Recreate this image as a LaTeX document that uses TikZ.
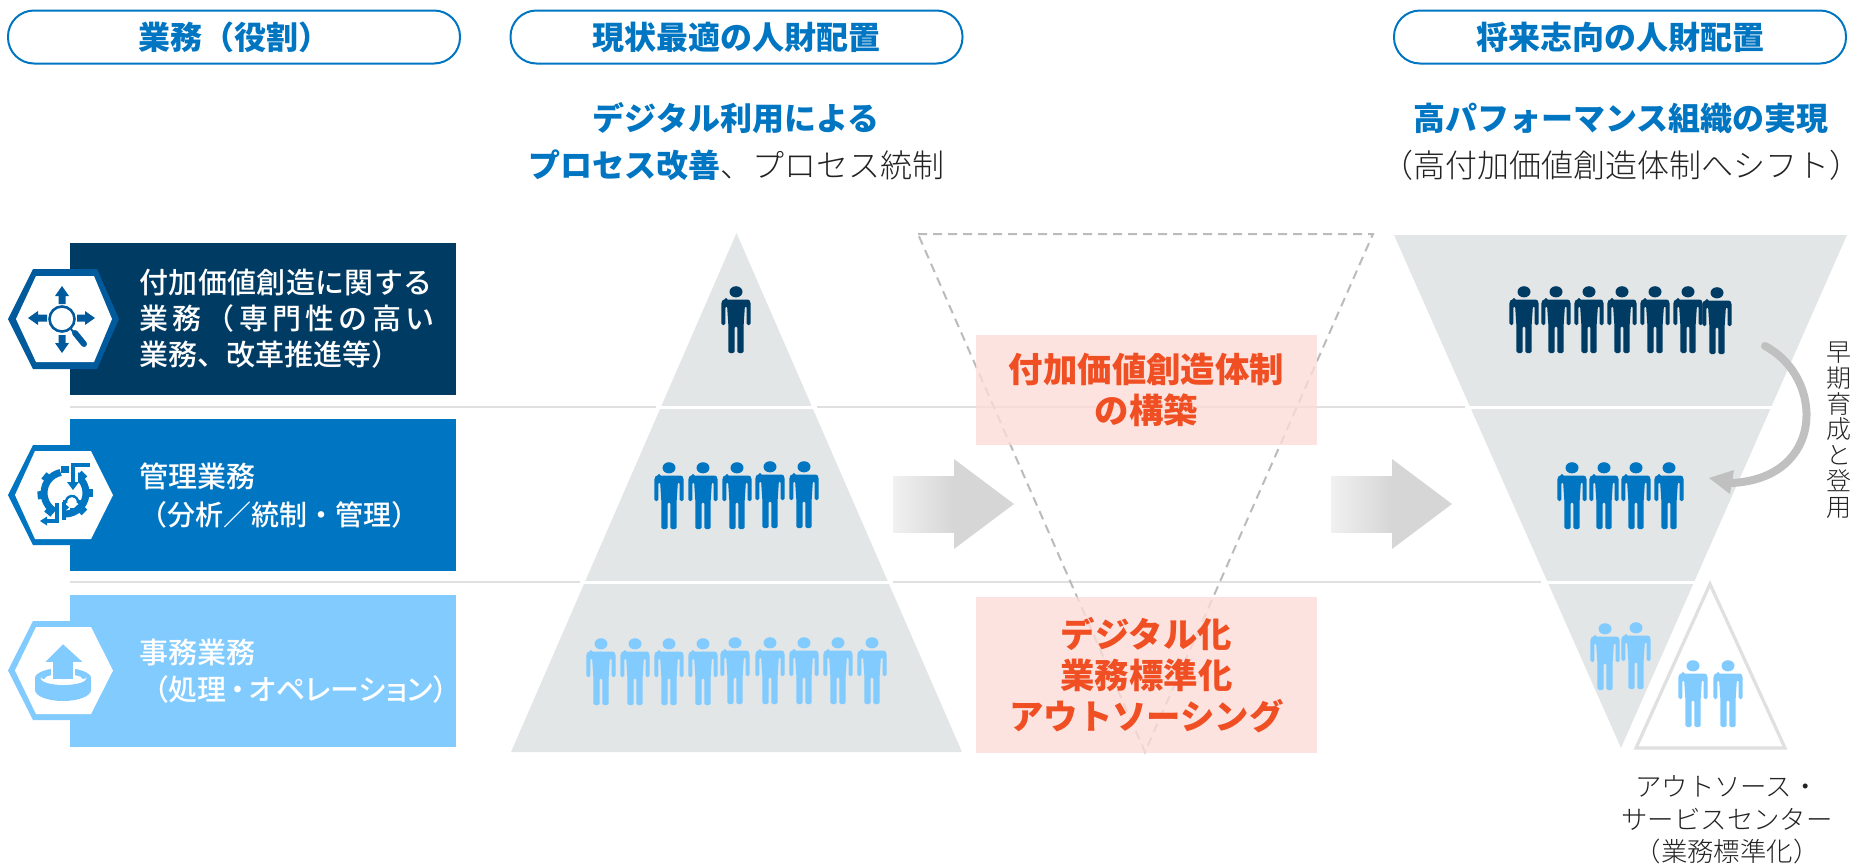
\documentclass[tikz,border=0pt]{standalone}
\usepackage{fontspec}
\setmainfont{Noto Sans CJK JP}
\newfontfamily\cjk{Noto Sans CJK JP}
\newfontfamily\cjklight{Noto Sans CJK JP Light}
\newfontfamily\cjkmed{Noto Sans CJK JP Medium}
\definecolor{navy}{HTML}{003B64}
\definecolor{midblue}{HTML}{0075C2}
\definecolor{lightblue}{HTML}{82CBFF}
\definecolor{hexnavy}{HTML}{005A9C}
\definecolor{pale}{HTML}{E3E6E7}
\definecolor{rule}{HTML}{E0E0E0}
\definecolor{pinkbg}{HTML}{FBDCD7}
\definecolor{redtext}{HTML}{F04E23}
\definecolor{arrowgrey}{HTML}{D6D6D6}
\definecolor{curvegrey}{HTML}{C0C0C0}
\definecolor{dashgrey}{HTML}{BBBBBB}
\definecolor{inktext}{HTML}{222222}
\newcommand{\person}[3]{%
  \fill[#3,shift={(#1,#2)}] (0,5.8) ellipse [x radius=6.5,y radius=5.6];
  \fill[#3,shift={(#1,#2)},rounded corners=0.8pt]
    (-10,13.5) -- (10,13.5) .. controls (13,13.5) and (14.6,15) .. (14.6,19) -- (14.6,39) -- (10.6,39) -- (10.6,20) -- (8.9,20)
    -- (7.6,40) -- (7.6,67) -- (1.3,67) -- (1.3,40) -- (-1.3,40) -- (-1.3,67) -- (-7.6,67) -- (-7.6,40) -- (-8.9,20)
    -- (-10.6,20) -- (-10.6,39) -- (-14.6,39) -- (-14.6,19) .. controls (-14.6,15) and (-13,13.5) .. (-10,13.5) -- cycle;}
\newcommand{\spreadline}[2]{\makebox[#1][s]{#2}}
\tikzset{
  pill/.style={draw=midblue,line width=1pt,rounded corners=13pt,fill=white,minimum width=226pt,minimum height=26.5pt,inner sep=0pt,text=midblue,font=\fontsize{16}{20}\selectfont\bfseries},
  subhead/.style={inner sep=0pt,align=center,font=\fontsize{16}{23.5}\selectfont},
  bandtext/.style={inner sep=0pt,anchor=west,align=left,text=white,font=\cjkmed\fontsize{14.5}{18}\selectfont},
  pinkbox/.style={fill=pinkbg,fill opacity=.8,text opacity=1,minimum width=170.5pt,inner sep=0pt,align=center,text=redtext,font=\fontsize{17.2}{20.5}\selectfont\bfseries},
  greyrule/.style={draw=rule,line width=1pt},
  gap/.style={draw=white,line width=1.5pt},
  dashtri/.style={draw=dashgrey,line width=1pt,dash pattern=on 4.5pt off 3pt},
  caption/.style={inner sep=0pt,align=center,text=inktext,font=\cjklight\fontsize{13.2}{16.2}\selectfont}
}
\begin{document}
\begin{tikzpicture}[x=0.5pt,y=-0.5pt]
\useasboundingbox (0,0) rectangle (1854,863);
% header pills
\node[pill] (p1) at (234,37) {業務（役割）};
\node[pill] (p2) at (736.5,37) {現状最適の人財配置};
\node[pill] (p3) at (1620,37) {将来志向の人財配置};
% subheads
\node[subhead] (s1) at (736,142) {\textcolor{midblue}{\bfseries デジタル利用による}\\\textcolor{midblue}{\bfseries プロセス改善}\textcolor{inktext}{\cjklight 、プロセス統制}};
\node[subhead] (s2) at (1621,142) {\textcolor{midblue}{\bfseries 高パフォーマンス組織の実現}\\\textcolor{inktext}{\cjklight （高付加価値創造体制へシフト）}};
% horizontal rules
\coordinate (r1a) at (70,407); \coordinate (r1b) at (1469,407);
\coordinate (r2a) at (70,582); \coordinate (r2b) at (1541,582);
\draw[greyrule] (r1a) -- (r1b);
\draw[greyrule] (r2a) -- (r2b);
% dashed triangle
\draw[dashtri] (918,234) -- (1373,234) -- (1145,752) -- cycle;
% pink boxes
\node[pinkbox,minimum height=55pt] (k1) at (1146.5,390) {付加価値創造体制\\の構築};
\node[pinkbox,minimum height=78pt] (k2) at (1146.5,675) {デジタル化\\業務標準化\\アウトソーシング};
% pyramid
\fill[pale] (736.5,233) -- (962,752) -- (511,752) -- cycle;
\draw[gap] (656,407) -- (817,407);
\draw[gap] (580,582) -- (893,582);
% inverted triangle
\fill[pale] (1394,235) -- (1847,235) -- (1621,748) -- cycle;
\draw[gap] (1465,407) -- (1776,407);
\draw[gap] (1543,582) -- (1698,582);
% outsourcing triangle
\draw[draw=white,line width=4pt,fill=white] (1710,584) -- (1785,748) -- (1636,748) -- cycle;
\draw[draw=rule,line width=1.6pt,line join=miter,fill=white] (1710,584) -- (1785,748) -- (1636,748) -- cycle;
% block arrows
\shade[left color=arrowgrey!35,right color=arrowgrey] (893,476) rectangle (954,532);
\fill[arrowgrey] (954,459) -- (1014,504) -- (954,549) -- cycle;
\shade[left color=arrowgrey!35,right color=arrowgrey] (1331,476) rectangle (1392,532);
\fill[arrowgrey] (1392,459) -- (1452,504) -- (1392,549) -- cycle;
% bands
\fill[navy] (70,243) rectangle (456,395);
\fill[midblue] (70,419) rectangle (456,571);
\fill[lightblue] (70,595) rectangle (456,747);
% hexagons
\fill[hexnavy] (8,319) -- (33,269) -- (97,269) -- (119,319) -- (97,369) -- (33,369) -- cycle;
\fill[white] (16,319) -- (36,276) -- (94,276) -- (112,319) -- (94,362) -- (36,362) -- cycle;
\fill[midblue] (8,495) -- (33,445) -- (97,445) -- (119,495) -- (97,545) -- (33,545) -- cycle;
\fill[white] (15,495) -- (35,451) -- (91,451) -- (113,495) -- (91,539) -- (35,539) -- cycle;
\fill[lightblue] (8,670.5) -- (33,621) -- (97,621) -- (119,670.5) -- (97,720) -- (33,720) -- cycle;
\fill[white] (15,670.5) -- (36,627) -- (91,627) -- (113,670.5) -- (91,714) -- (36,714) -- cycle;
% icon 1
\draw[hexnavy,line width=1.3pt] (62,319) circle [radius=12.5];
\draw[hexnavy,line width=1pt] (71,329) -- (75,334);
\draw[hexnavy,line width=3pt,line cap=round] (75,333) -- (84,344);
\fill[hexnavy] (62,286) -- (69,296) -- (65.5,296) -- (65.5,304) -- (58.5,304) -- (58.5,296) -- (55,296) -- cycle;
\fill[hexnavy] (62,353) -- (69,343) -- (65.5,343) -- (65.5,335) -- (58.5,335) -- (58.5,343) -- (55,343) -- cycle;
\fill[hexnavy] (28,318) -- (38,311) -- (38,314.5) -- (47,314.5) -- (47,321.5) -- (38,321.5) -- (38,325) -- cycle;
\fill[hexnavy] (95,318) -- (85,311) -- (85,314.5) -- (77,314.5) -- (77,321.5) -- (85,321.5) -- (85,325) -- cycle;
% icon 2
\begin{scope}[shift={(65,493)}]
  \draw[midblue,line width=3.5pt] (258:21) arc [start angle=258,end angle=120,radius=21];
  \draw[midblue,line width=3.5pt] (300:21) arc [start angle=300,end angle=465,radius=21];
  \foreach \a in {185,140,230,-45,0,45,90}{
    \fill[midblue,rotate=\a] (20,-4) rectangle (27.5,4);}
  \begin{scope}[shift={(7,9)}]
    \draw[midblue,line width=1.2pt] (170:6) arc [start angle=170,end angle=370,radius=6];
    \foreach \a in {180,225,270,315,360}{\fill[midblue,rotate=\a] (6,-1.6) rectangle (9.5,1.6);}
  \end{scope}
  \fill[midblue] (15,-21) -- (21,-11) -- (10,-11) -- cycle;
  \draw[white,line width=1.6pt] (11.5,-28) -- (11.5,-6);
  \draw[midblue,line width=1.6pt] (25,-28) -- (8,-28) -- (8,-10);
  \fill[midblue] (8,-3) -- (2,-11) -- (14,-11) -- cycle;
  \draw[white,line width=2.5pt] (-4.5,8) -- (-4.5,31);
  \draw[midblue,line width=1.6pt] (-8,10) -- (-8,28) -- (-20,28);
  \fill[midblue] (-25,28) -- (-18,23.5) -- (-18,32.5) -- cycle;
  \fill[midblue] (-3,9) rectangle (1,27);
\end{scope}
% icon 3
\fill[lightblue] (63,678) ellipse [x radius=28,y radius=10];
\fill[lightblue] (35,678) rectangle (91,690);
\fill[lightblue] (63,690) ellipse [x radius=28,y radius=11];
\fill[white] (63.5,678) ellipse [x radius=23,y radius=7];
\fill[lightblue] (41,678) .. controls (41,672) and (46,670) .. (52,669) -- (52,675) .. controls (47,676) and (45,677) .. (44,679) -- cycle;
\fill[lightblue] (86,678) .. controls (86,672) and (81,670) .. (74,669) -- (74,675) .. controls (80,676) and (82,677) .. (83,679) -- cycle;
\draw[white,line width=0.8pt,fill=lightblue,line join=miter] (63,643) -- (85,663) -- (74,663) -- (74,680) -- (52,680) -- (52,663) -- (43,663) -- cycle;
% band labels
\node[bandtext] (b1) at (139,319) {\spreadline{146.5pt}{付\hfill 加\hfill 価\hfill 値\hfill 創\hfill 造\hfill に\hfill 関\hfill す\hfill る}\\\spreadline{147.5pt}{業\hfill 務\hfill （\hfill 専\hfill 門\hfill 性\hfill の\hfill 高\hfill い}\\業務、改革推進等）};
\node[bandtext,font=\cjkmed\fontsize{14.5}{19}\selectfont] (b2) at (139,496) {管理業務\\{\fontsize{14}{19}\selectfont （分析／統制・管理）}};
\node[bandtext,font=\cjkmed\fontsize{14.5}{18.5}\selectfont] (b3) at (139,671) {事務業務\\\hspace*{7.5pt}{\addfontfeature{RawFeature=+palt}（処理\hspace{2pt}・\hspace{2pt}オペレーション）}};
% people
\person{736}{286}{navy}
\person{669}{462}{midblue}\person{703}{462}{midblue}\person{737}{462}{midblue}\person{770}{461}{midblue}\person{804}{461}{midblue}
\foreach \x in {601,635,669,703}{\person{\x}{638}{lightblue}}
\foreach \x in {735,770,804,838,872}{\person{\x}{637}{lightblue}}
\foreach \x in {1524,1556,1589,1622,1655,1688}{\person{\x}{286}{navy}}
\person{1717}{287}{navy}
\foreach \x in {1572,1604,1636,1669}{\person{\x}{462}{midblue}}
\person{1605}{623}{lightblue}\person{1636}{622}{lightblue}
\person{1693}{660}{lightblue}\person{1728}{660}{lightblue}
% curved arrow
\coordinate (ca) at (1765,346); \coordinate (cb) at (1732,483);
\draw[curvegrey,line width=4pt,line cap=round] (ca) .. controls (1825,378) and (1825,478) .. (cb);
\fill[curvegrey] (1709,478) -- (1734,470) -- (1730,494) -- cycle;
% captions
\node[caption,font=\cjklight\fontsize{12.5}{12.9}\selectfont] (v) at (1839,430) {早\\期\\育\\成\\と\\登\\用};
\node[caption] (o) at (1727,820) {アウトソース・\\サービスセンター\\（業務標準化）};
\end{tikzpicture}
\end{document}
